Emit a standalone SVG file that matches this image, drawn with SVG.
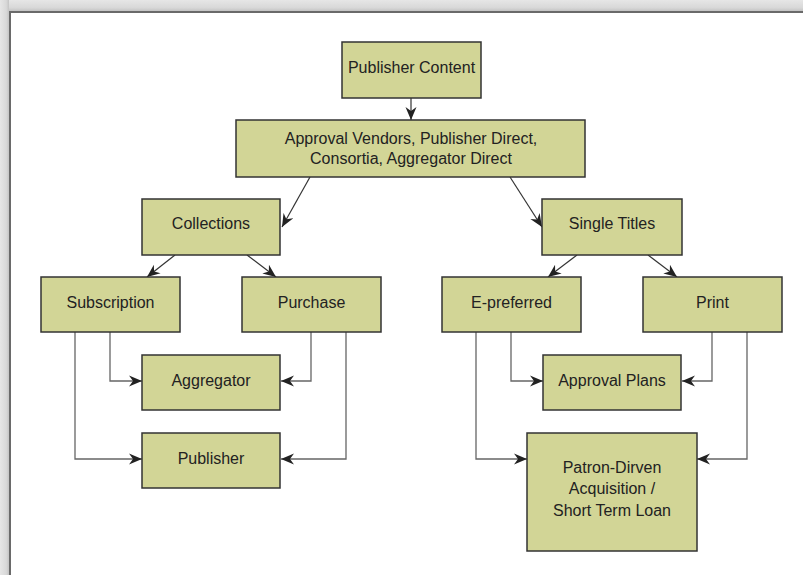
<svg xmlns="http://www.w3.org/2000/svg" width="803" height="575" viewBox="0 0 803 575">
<defs>
<linearGradient id="gtop" x1="0" y1="0" x2="0" y2="1">
<stop offset="0" stop-color="#e6e6e6"/>
<stop offset="0.7" stop-color="#d8d8d8"/>
<stop offset="1" stop-color="#c4c4c4"/>
</linearGradient>
<linearGradient id="gleft" x1="0" y1="0" x2="1" y2="0">
<stop offset="0" stop-color="#e6e6e6"/>
<stop offset="0.7" stop-color="#d8d8d8"/>
<stop offset="1" stop-color="#c4c4c4"/>
</linearGradient>
<marker id="arr" markerUnits="userSpaceOnUse" markerWidth="14" markerHeight="12" refX="13" refY="6" orient="auto">
<path d="M0,0.5 L13,6 L0,11.5 L4,6 Z" fill="#222"/>
</marker>
<style>
.box{fill:#d2d596;stroke:#333;stroke-width:1.5}
.t{font-family:"Liberation Sans",Arial,sans-serif;font-size:16px;fill:#222;text-anchor:middle}
.c{fill:none;stroke:#666;stroke-width:1.3;marker-end:url(#arr)}
.d{fill:none;stroke:#333;stroke-width:1.2;marker-end:url(#arr)}
</style>
</defs>
<g id="background">
<rect x="0" y="0" width="803" height="575" fill="#d9d9d9"/>
<rect x="0" y="0" width="803" height="11" fill="url(#gtop)"/>
<rect x="0" y="0" width="9" height="575" fill="url(#gleft)"/>
<rect x="9" y="11" width="794" height="564" fill="#ffffff"/>
<path d="M10,575 L10,12 L803,12" fill="none" stroke="#6a6a6a" stroke-width="2"/>
</g>
<g id="connectors">
<line class="d" x1="411" y1="98" x2="411" y2="120"/>
<line class="d" x1="310" y1="177" x2="282" y2="227"/>
<line class="d" x1="510" y1="177" x2="542" y2="227"/>
<line class="d" x1="175" y1="255" x2="147" y2="277"/>
<line class="d" x1="247" y1="255" x2="276" y2="277"/>
<line class="d" x1="577" y1="255" x2="548" y2="277"/>
<line class="d" x1="648" y1="255" x2="677" y2="277"/>
<polyline class="c" points="110,332 110,381 142,381"/>
<polyline class="c" points="75,332 75,459 142,459"/>
<polyline class="c" points="311,332 311,381 281,381"/>
<polyline class="c" points="346,332 346,459 281,459"/>
<polyline class="c" points="511,332 511,381 543,381"/>
<polyline class="c" points="476,332 476,459 527,459"/>
<polyline class="c" points="712,332 712,381 682,381"/>
<polyline class="c" points="747,332 747,459 697,459"/>
</g>
<g id="publisher-content"><rect class="box" x="342" y="42" width="139" height="56"/><text class="t" x="411.5" y="73">Publisher Content</text></g>
<g id="approval-vendors"><rect class="box" x="236" y="120" width="349" height="57"/><text class="t" x="411" y="144">Approval Vendors, Publisher Direct,</text><text class="t" x="411" y="163.5">Consortia, Aggregator Direct</text></g>
<g id="collections"><rect class="box" x="142" y="199" width="138" height="56"/><text class="t" x="211" y="229">Collections</text></g>
<g id="single-titles"><rect class="box" x="542" y="199" width="140" height="56"/><text class="t" x="612" y="229">Single Titles</text></g>
<g id="subscription"><rect class="box" x="41" y="277" width="139" height="55"/><text class="t" x="110.5" y="307.5">Subscription</text></g>
<g id="purchase"><rect class="box" x="242" y="277" width="139" height="55"/><text class="t" x="311.5" y="307.5">Purchase</text></g>
<g id="e-preferred"><rect class="box" x="442" y="277" width="139" height="55"/><text class="t" x="511.5" y="307.5">E-preferred</text></g>
<g id="print"><rect class="box" x="643" y="277" width="139" height="55"/><text class="t" x="712.5" y="307.5">Print</text></g>
<g id="aggregator"><rect class="box" x="142" y="355" width="138" height="55"/><text class="t" x="211" y="385.5">Aggregator</text></g>
<g id="publisher"><rect class="box" x="142" y="433" width="138" height="55"/><text class="t" x="211" y="463.5">Publisher</text></g>
<g id="approval-plans"><rect class="box" x="543" y="355" width="138" height="55"/><text class="t" x="612" y="385.5">Approval Plans</text></g>
<g id="patron-driven"><rect class="box" x="527" y="433" width="170" height="118"/><text class="t" x="612" y="472.5">Patron-Dirven</text><text class="t" x="612" y="494">Acquisition /</text><text class="t" x="612" y="515.5">Short Term Loan</text></g>
</svg>
